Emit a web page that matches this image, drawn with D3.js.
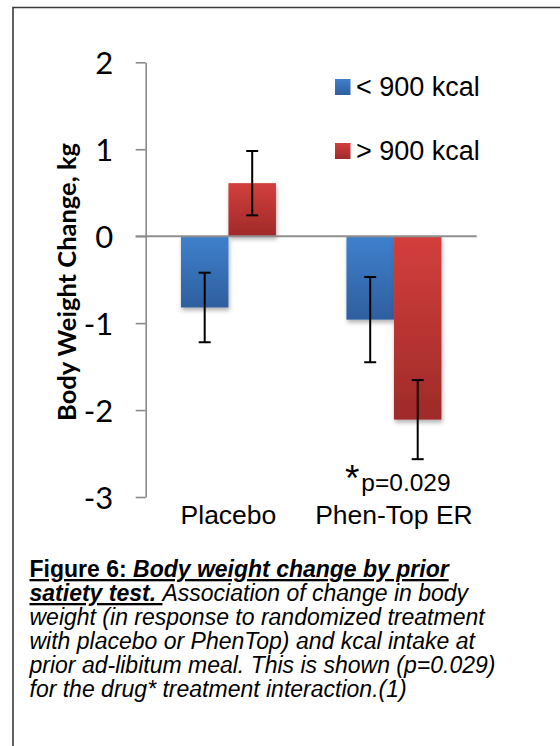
<!DOCTYPE html>
<html>
<head>
<meta charset="utf-8">
<script src="https://cdn.jsdelivr.net/npm/d3@7"></script>
<style>
  html, body { margin: 0; padding: 0; background: #fff; }
  svg { display: block; }
</style>
</head>
<body>
<svg id="chart" width="560" height="746"></svg>
<script>
// Treatment groups and the two kcal-intake series (mean change in kg, with error half-widths)
const categories = ["Placebo", "Phen-Top ER"];
const seriesNames = ["< 900 kcal", "> 900 kcal"];
const lowKcal = [-0.82, -0.96];
const highKcal = [0.61, -2.11];
const lowKcalErr = [0.40, 0.49];
const highKcalErr = [0.37, 0.455];
const yTicks = [2, 1, 0, -1, -2, -3];

const captionLines = [
  [{t: "Figure 6: ", bold: true, italic: false, u: true},
   {t: "Body weight change by prior", bold: true, italic: true, u: true}],
  [{t: "satiety test. ", bold: true, italic: true, u: true},
   {t: "Association of change in body", bold: false, italic: true, u: false}],
  [{t: "weight (in response to randomized treatment", bold: false, italic: true, u: false}],
  [{t: "with placebo or PhenTop) and kcal intake at", bold: false, italic: true, u: false}],
  [{t: "prior ad-libitum meal. This is shown (p=0.029)", bold: false, italic: true, u: false}],
  [{t: "for the drug* treatment interaction.(1)", bold: false, italic: true, u: false}]
];

const svg = d3.select("#chart");
const sans = "'Liberation Sans', Arial, sans-serif";
const calib = "Lato, Carlito, Calibri, sans-serif";

// Frame around the figure
svg.append("path")
  .attr("d", "M13,746 V7.5 H560")
  .attr("fill", "none").attr("stroke", "#3a3a3a").attr("stroke-width", 1.6);

// Gradients and shadow
const defs = svg.append("defs");
const fills = [
  {id: "gBlue", top: "#3f80cd", bot: "#2e5f9f"},
  {id: "gRed", top: "#d33f3c", bot: "#9f2a29"}
];
fills.forEach(f => {
  const g = defs.append("linearGradient").attr("id", f.id)
    .attr("x1", 0).attr("y1", 0).attr("x2", 0).attr("y2", 1);
  g.append("stop").attr("offset", "0%").attr("stop-color", f.top);
  g.append("stop").attr("offset", "100%").attr("stop-color", f.bot);
});
const sh = defs.append("filter").attr("id", "shadow")
  .attr("x", "-20%").attr("y", "-20%").attr("width", "150%").attr("height", "150%");
sh.append("feDropShadow").attr("dx", 1).attr("dy", 3).attr("stdDeviation", 2)
  .attr("flood-color", "#000").attr("flood-opacity", 0.3);

const colorIds = ["url(#gBlue)", "url(#gRed)"];

// Scales
const plotLeft = 145.7, plotRight = 476.7;
const y = d3.scaleLinear().domain([-3, 2]).range([497, 62.3]);
const x0 = d3.scaleBand().domain(categories).range([plotLeft, plotRight]).padding(0);
const x1 = d3.scaleBand().domain(seriesNames).range([0, x0.bandwidth()])
  .paddingInner(0).paddingOuter(0.742);

// Y axis (hyphen-minus for negative labels)
const yAxis = d3.axisLeft(y).tickValues(yTicks).tickFormat(d => String(d))
  .tickSize(10).tickSizeOuter(0).tickPadding(22.5);
const ya = svg.append("g").attr("transform", `translate(${plotLeft},0)`).call(yAxis);
ya.select(".domain").attr("stroke", "#8a8a8a").attr("stroke-width", 1.6);
ya.selectAll(".tick line").attr("stroke", "#8a8a8a").attr("stroke-width", 1.6);
ya.selectAll(".tick text").attr("font-family", calib).attr("font-size", 31)
  .attr("fill", "#000").attr("dy", "0.36em");

// Axis title
svg.append("text")
  .attr("transform", `translate(76,282) rotate(-90)`)
  .attr("text-anchor", "middle")
  .attr("font-family", calib).attr("font-weight", 700).attr("font-size", 25.5)
  .attr("fill", "#000")
  .text("Body Weight Change, kg");

// Bars
const rows = categories.map((c, i) => ({
  cat: c,
  vals: [
    {s: seriesNames[0], v: lowKcal[i], e: lowKcalErr[i], k: 0},
    {s: seriesNames[1], v: highKcal[i], e: highKcalErr[i], k: 1}
  ]
}));

const groups = svg.append("g").selectAll("g").data(rows).join("g")
  .attr("transform", d => `translate(${x0(d.cat)},0)`);

groups.selectAll("rect").data(d => d.vals).join("rect")
  .attr("x", d => x1(d.s))
  .attr("width", x1.bandwidth())
  .attr("y", d => y(Math.max(0, d.v)))
  .attr("height", d => Math.abs(y(d.v) - y(0)))
  .attr("fill", d => colorIds[d.k])
  .attr("filter", "url(#shadow)");

// Zero (category) axis line
svg.append("line")
  .attr("x1", plotLeft - 10).attr("x2", plotRight)
  .attr("y1", y(0)).attr("y2", y(0))
  .attr("stroke", "#8f8f8f").attr("stroke-width", 2);

// Error bars
const capHalf = 6;
const eb = groups.selectAll("g.err").data(d => d.vals).join("g").attr("class", "err")
  .attr("stroke", "#000").attr("stroke-width", 2);
eb.append("line")
  .attr("x1", d => x1(d.s) + x1.bandwidth() / 2).attr("x2", d => x1(d.s) + x1.bandwidth() / 2)
  .attr("y1", d => y(d.v + d.e)).attr("y2", d => y(d.v - d.e));
eb.append("line")
  .attr("x1", d => x1(d.s) + x1.bandwidth() / 2 - capHalf).attr("x2", d => x1(d.s) + x1.bandwidth() / 2 + capHalf)
  .attr("y1", d => y(d.v + d.e)).attr("y2", d => y(d.v + d.e));
eb.append("line")
  .attr("x1", d => x1(d.s) + x1.bandwidth() / 2 - capHalf).attr("x2", d => x1(d.s) + x1.bandwidth() / 2 + capHalf)
  .attr("y1", d => y(d.v - d.e)).attr("y2", d => y(d.v - d.e));

// Category labels
svg.append("g").selectAll("text").data(categories).join("text")
  .attr("x", d => x0(d) + x0.bandwidth() / 2)
  .attr("y", 524)
  .attr("text-anchor", "middle")
  .attr("font-family", sans).attr("font-size", 26.5).attr("fill", "#000")
  .text(d => d);

// Significance note under the drug group
const pc = x0("Phen-Top ER") + x0.bandwidth() / 2;
const pt = svg.append("text").attr("x", pc - 49).attr("y", 491)
  .attr("font-family", sans).attr("fill", "#000");
pt.append("tspan").attr("font-size", 37).text("*");
pt.append("tspan").attr("font-size", 24.5).attr("dx", 2).text("p=0.029");

// Legend
const leg = svg.append("g").selectAll("g").data(seriesNames).join("g")
  .attr("transform", (d, i) => `translate(335,${79 + i * 64})`);
leg.append("rect").attr("width", 15.5).attr("height", 16)
  .attr("fill", (d, i) => colorIds[i]);
leg.append("text").attr("x", 21).attr("y", 16.8)
  .attr("font-family", sans).attr("font-size", 27).attr("fill", "#000")
  .text(d => d);

// Caption
const cap = svg.append("g").attr("font-family", sans).attr("font-size", 23).attr("fill", "#000");
captionLines.forEach((line, i) => {
  const t = cap.append("text").attr("x", 29.5).attr("y", 577 + i * 24);
  line.forEach(seg => {
    t.append("tspan")
      .attr("font-weight", seg.bold ? 700 : 400)
      .attr("font-style", seg.italic ? "italic" : "normal")
      .attr("text-decoration", seg.u ? "underline" : null)
      .text(seg.t);
  });
});
</script>
</body>
</html>
